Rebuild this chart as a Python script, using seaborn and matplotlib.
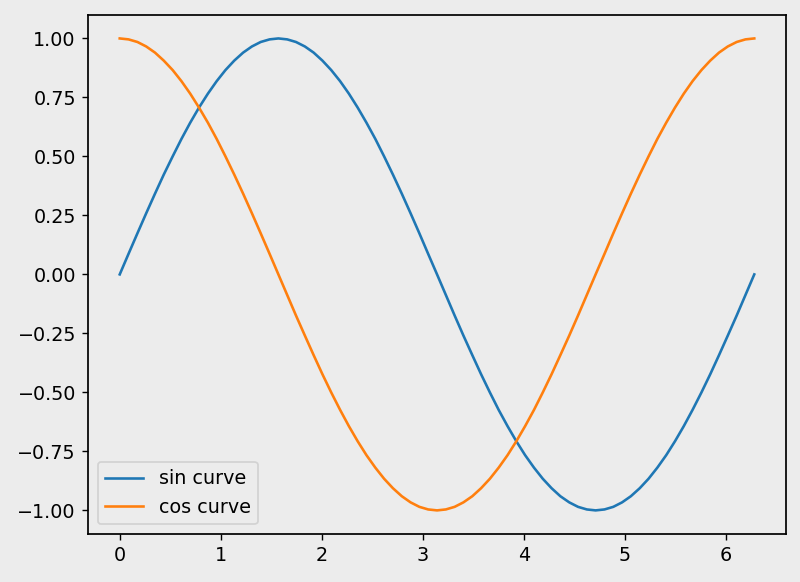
import numpy as np
import matplotlib
matplotlib.use("Agg")
import matplotlib.pyplot as plt
import seaborn as sns
import pandas as pd

# x positions (0 .. 2*pi) and values
x_vals = [0.000, 0.087, 0.175, 0.262, 0.349, 0.436, 0.524, 0.611, 0.698, 0.785,
          0.873, 0.960, 1.047, 1.134, 1.222, 1.309, 1.396, 1.484, 1.571, 1.658,
          1.745, 1.833, 1.920, 2.007, 2.094, 2.182, 2.269, 2.356, 2.443, 2.531,
          2.618, 2.705, 2.793, 2.880, 2.967, 3.054, 3.142, 3.229, 3.316, 3.403,
          3.491, 3.578, 3.665, 3.752, 3.840, 3.927, 4.014, 4.102, 4.189, 4.276,
          4.363, 4.451, 4.538, 4.625, 4.712, 4.800, 4.887, 4.974, 5.061, 5.149,
          5.236, 5.323, 5.411, 5.498, 5.585, 5.672, 5.760, 5.847, 5.934, 6.021,
          6.109, 6.196, 6.283]
sin_vals = [0.000, 0.087, 0.174, 0.259, 0.342, 0.423, 0.500, 0.574, 0.643, 0.707,
            0.766, 0.819, 0.866, 0.906, 0.940, 0.966, 0.985, 0.996, 1.000, 0.996,
            0.985, 0.966, 0.940, 0.906, 0.866, 0.819, 0.766, 0.707, 0.643, 0.574,
            0.500, 0.423, 0.342, 0.259, 0.174, 0.087, 0.000, -0.087, -0.174, -0.259,
            -0.342, -0.423, -0.500, -0.574, -0.643, -0.707, -0.766, -0.819, -0.866, -0.906,
            -0.940, -0.966, -0.985, -0.996, -1.000, -0.996, -0.985, -0.966, -0.940, -0.906,
            -0.866, -0.819, -0.766, -0.707, -0.643, -0.574, -0.500, -0.423, -0.342, -0.259,
            -0.174, -0.087, 0.000]
cos_vals = [1.000, 0.996, 0.985, 0.966, 0.940, 0.906, 0.866, 0.819, 0.766, 0.707,
            0.643, 0.574, 0.500, 0.423, 0.342, 0.259, 0.174, 0.087, 0.000, -0.087,
            -0.174, -0.259, -0.342, -0.423, -0.500, -0.574, -0.643, -0.707, -0.766, -0.819,
            -0.866, -0.906, -0.940, -0.966, -0.985, -0.996, -1.000, -0.996, -0.985, -0.966,
            -0.940, -0.906, -0.866, -0.819, -0.766, -0.707, -0.643, -0.574, -0.500, -0.423,
            -0.342, -0.259, -0.174, -0.087, 0.000, 0.087, 0.174, 0.259, 0.342, 0.423,
            0.500, 0.574, 0.643, 0.707, 0.766, 0.819, 0.866, 0.906, 0.940, 0.966,
            0.985, 0.996, 1.000]
series_labels = ["sin curve", "cos curve"]

bg = "#ececec"
plt.rcParams["font.family"] = ["DejaVu Sans"]
plt.rcParams["font.size"] = 11

fig = plt.figure(figsize=(6.4, 4.656), dpi=125, facecolor=bg)
ax = fig.add_axes([0.11, 0.0825, 0.8725, 0.892])
ax.set_facecolor(bg)

df = pd.DataFrame({"x": x_vals * 2,
                   "y": sin_vals + cos_vals,
                   "curve": [series_labels[0]] * len(x_vals) + [series_labels[1]] * len(x_vals)})
sns.lineplot(data=df, x="x", y="y", hue="curve", palette=["#1f77b4", "#ff7f0e"],
             ax=ax, linewidth=1.5)
ax.set_xlabel("")
ax.set_ylabel("")
ax.set_yticks(np.arange(-1.0, 1.01, 0.25))
ax.tick_params(labelsize=11)
for s in ax.spines.values():
    s.set_color("black")
    s.set_linewidth(1.0)
leg = ax.legend(loc="lower left", facecolor=bg, edgecolor="#cccccc", fontsize=11)
leg.set_title(None)
fig.savefig("out.png", dpi=125, facecolor=bg)
